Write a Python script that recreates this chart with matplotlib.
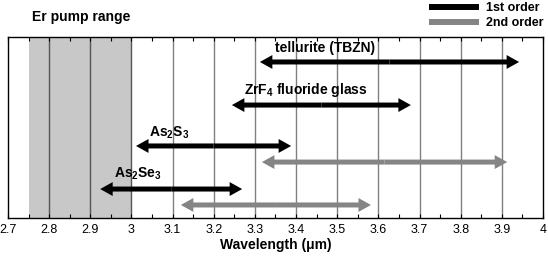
import matplotlib
matplotlib.use('Agg')
import matplotlib.pyplot as plt
from matplotlib.lines import Line2D

plt.rcParams['font.family'] = ['Liberation Sans', 'DejaVu Sans']
plt.rcParams['mathtext.fontset'] = 'custom'
plt.rcParams['mathtext.rm'] = 'Liberation Sans:bold'
plt.rcParams['mathtext.bf'] = 'Liberation Sans:bold'

# arrow spans (start, end, height, order)
arrow_start = [3.312, 3.244, 3.011, 3.317, 2.924, 3.120]
arrow_end = [3.942, 3.679, 3.388, 3.913, 3.269, 3.582]
arrow_y = [0.862, 0.624, 0.398, 0.309, 0.160, 0.072]
arrow_order = [1, 1, 1, 2, 1, 2]

labels = ['tellurite (TBZN)', r'ZrF$_4$ fluoride glass', r'As$_2$S$_3$', r'As$_2$Se$_3$']
label_x = [3.47, 3.424, 3.091, 3.016]
label_y = [0.94, 0.707, 0.47, 0.243]

pump_range = (2.75, 3.0)
ticks = [2.7, 2.8, 2.9, 3.0, 3.1, 3.2, 3.3, 3.4, 3.5, 3.6, 3.7, 3.8, 3.9, 4.0]
tick_labels = ['2.7', '2.8', '2.9', '3', '3.1', '3.2', '3.3', '3.4', '3.5', '3.6',
               '3.7', '3.8', '3.9', '4']
colors = {1: '#000000', 2: '#858585'}

fig = plt.figure(figsize=(5.48, 2.56), dpi=100)
ax = fig.add_axes([8 / 548, 1 - 218 / 256, 535 / 548, 181 / 256])
ax.set_xlim(2.7, 4.0)
ax.set_ylim(0, 1)

ax.axvspan(*pump_range, color='#c8c8c8', lw=0, zorder=0)
for t in ticks[1:-1]:
    shade = '#555555' if pump_range[0] < t <= pump_range[1] else '#808080'
    ax.axvline(t, color=shade, lw=1, zorder=1)

style = 'simple,head_length=9,head_width=10,tail_width=3.6'
for x0, x1, y, o in zip(arrow_start, arrow_end, arrow_y, arrow_order):
    mid = (x0 + x1) / 2
    for tip in (x0, x1):
        ax.annotate('', xy=(tip, y), xytext=(mid, y),
                    arrowprops=dict(arrowstyle=style, mutation_scale=1,
                                    color=colors[o], lw=0,
                                    shrinkA=0, shrinkB=0), zorder=3)

for txt, x, y in zip(labels, label_x, label_y):
    ax.text(x, y, txt, ha='center', va='center', fontsize=10, fontweight='bold', zorder=4)

ax.set_xticks(ticks)
ax.set_xticklabels(tick_labels, fontsize=9)
ax.set_xticks([t + 0.05 for t in ticks[:-1]], minor=True)
ax.tick_params(axis='x', which='both', direction='in', top=True, length=3, width=0.8, pad=4)
ax.set_yticks([])
ax.set_xlabel('Wavelength (μm)', fontsize=10, fontweight='bold', labelpad=2)
for s in ax.spines.values():
    s.set_linewidth(1)

ax.text(2.758, 1.11, 'Er pump range', transform=ax.get_xaxis_transform(),
        ha='left', va='center', fontsize=10, fontweight='bold')

handles = [Line2D([], [], color=colors[1], lw=4.3, solid_capstyle='butt'),
           Line2D([], [], color=colors[2], lw=4.3, solid_capstyle='butt')]
leg = ax.legend(handles, ['1st order', '2nd order'], loc='lower right',
                bbox_to_anchor=(1.005, 1.028), frameon=False, handlelength=4.0,
                borderaxespad=0.1, borderpad=0.1, labelspacing=0.25,
                handletextpad=0.5, prop={'weight': 'bold', 'size': 9})

fig.savefig('out.png', dpi=100)
